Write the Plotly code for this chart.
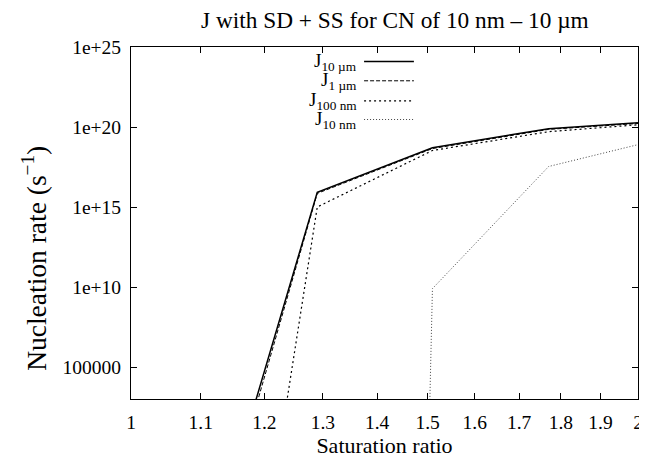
import plotly.graph_objects as go

# Saturation ratio (x) and nucleation rates (y, s^-1)
S = [1.1, 1.29, 1.51, 1.77, 2.0]
J_10um = [1.8e-9, 8.3e15, 5.1e18, 7.8e19, 1.86e20]
J_1um = [3.2e-10, 7.1e15, 4.5e18, 7.1e19, 1.66e20]
J_100nm = [3.2e-32, 1.0e15, 3.4e18, 5.1e19, 1.38e20]
J_10nm = [1e-300, 1e-300, 7.9e9, 3.4e17, 7.9e18]

x_ticks = [1, 1.1, 1.2, 1.3, 1.4, 1.5, 1.6, 1.7, 1.8, 1.9, 2]
x_tick_text = ["1", "1.1", "1.2", "1.3", "1.4", "1.5", "1.6", "1.7", "1.8", "1.9", "2"]
y_ticks = [1e5, 1e10, 1e15, 1e20, 1e25]
y_tick_text = ["100000", "1e+10", "1e+15", "1e+20", "1e+25"]

names = ["J<sub>10 µm</sub>", "J<sub>1 µm</sub>", "J<sub>100 nm</sub>", "J<sub>10 nm</sub>"]
series = [J_10um, J_1um, J_100nm, J_10nm]
styles = [
    dict(color="black", width=1.5, dash="solid"),
    dict(color="black", width=1, dash="4px,2px"),
    dict(color="black", width=1.2, dash="2px,3px"),
    dict(color="#444444", width=1, dash="1px,2px"),
]

FONT = "Liberation Serif"
fig = go.Figure()
for name, ys, st in zip(names, series, styles):
    fig.add_trace(go.Scatter(x=S, y=ys, mode="lines", name=name, line=st,
                             showlegend=False))

# manual legend (text right-aligned, sample line on the right, like gnuplot)
row_y = [0.9585, 0.904, 0.847, 0.794]
for name, st, yy in zip(names, styles, row_y):
    fig.add_annotation(x=0.45, y=yy, xref="paper", yref="paper", text=name,
                       showarrow=False, xanchor="right", yanchor="middle",
                       font=dict(family=FONT, size=19, color="black"))
    fig.add_shape(type="line", xref="paper", yref="paper", x0=0.4597, x1=0.558,
                  y0=yy, y1=yy, line=st)

# y axis label (placed like the gnuplot original)
fig.add_annotation(x=-0.19, y=0.40, xref="paper", yref="paper",
                   text="Nucleation rate (s<sup>−1</sup>)", textangle=-90,
                   showarrow=False, xanchor="center", yanchor="middle",
                   font=dict(family=FONT, size=27.5, color="black"))

axis_common = dict(showline=True, linecolor="black", linewidth=1, mirror="allticks",
                   ticks="inside", ticklen=6, tickcolor="black", showgrid=False,
                   zeroline=False, ticklabeloverflow="allow",
                   tickfont=dict(family=FONT, size=19.5, color="black"))

fig.update_xaxes(type="log", range=[0, 0.30103], tickvals=x_ticks, ticktext=x_tick_text,
                 ticklabelstandoff=6,
                 title=dict(text="Saturation ratio", font=dict(family=FONT, size=22, color="black"),
                            standoff=4),
                 **axis_common)
fig.update_yaxes(type="log", range=[3, 25], tickvals=y_ticks, ticktext=y_tick_text,
                 ticklabelstandoff=5, **axis_common)

fig.update_layout(
    width=647, height=457,
    margin=dict(l=123, r=15, t=39, b=64),
    paper_bgcolor="white", plot_bgcolor="white",
    title=dict(text="J with SD + SS for CN of 10 nm – 10 µm", x=0.598, xanchor="center",
               y=0.975, yanchor="middle", font=dict(family=FONT, size=23.3, color="black")),
)

fig.write_html("out.html")
